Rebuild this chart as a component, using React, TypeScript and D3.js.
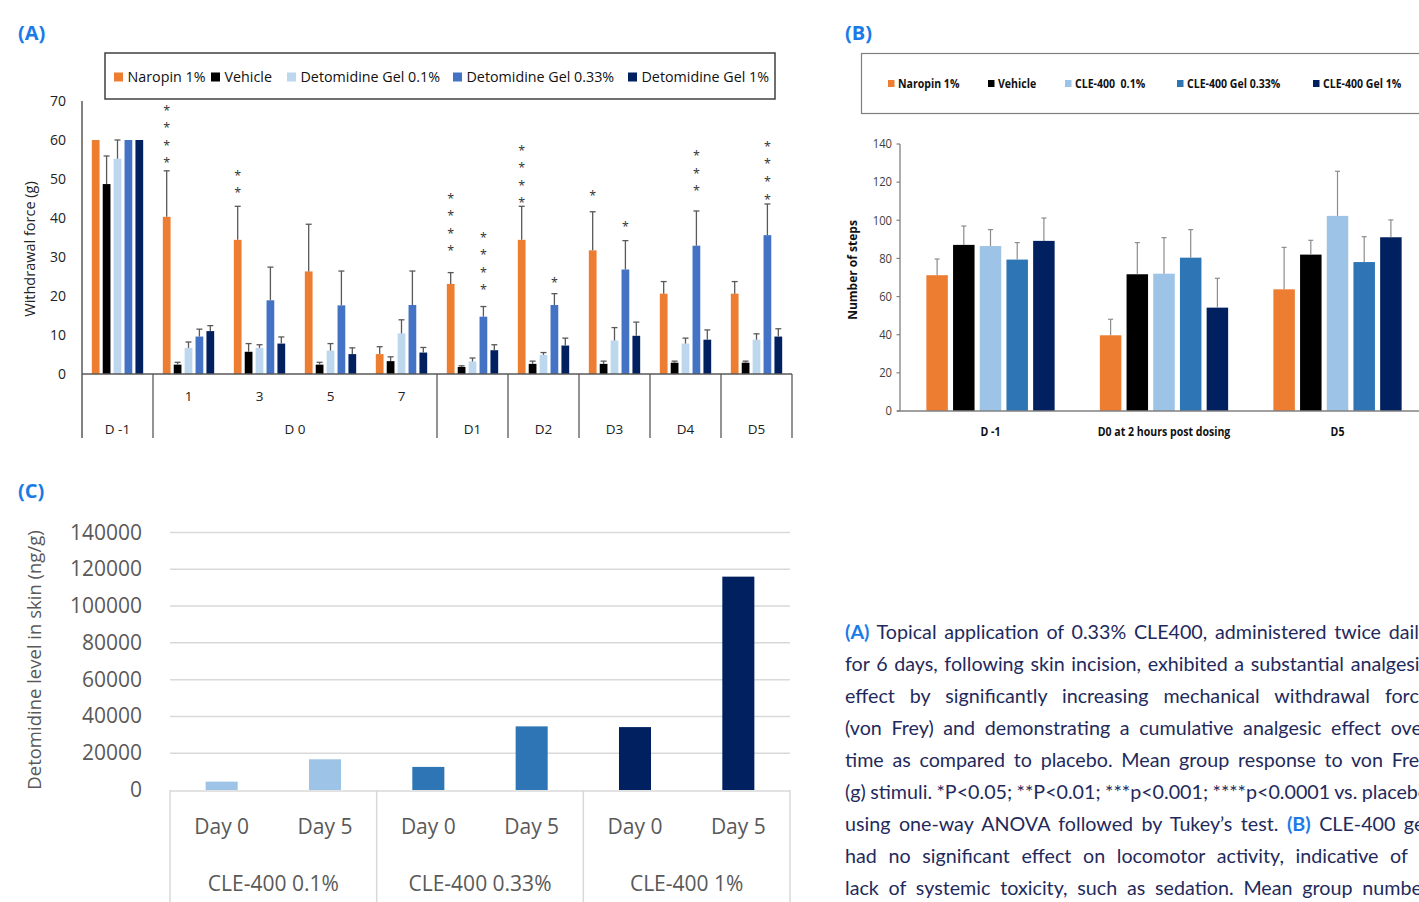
import React, { useLayoutEffect, useRef } from 'react';
import * as d3 from 'd3';

// ---------------- Panel A data ----------------
const seriesA = ['Naropin 1%', 'Vehicle', 'Detomidine Gel 0.1%', 'Detomidine Gel 0.33%', 'Detomidine Gel 1%'];
const colsA = ['D -1', '1', '3', '5', '7', 'D1', 'D2', 'D3', 'D4', 'D5'];
const subLabelsA = ['', '1', '3', '5', '7', '', '', '', '', ''];
const groupLabelsA = ['D -1', 'D 0', 'D1', 'D2', 'D3', 'D4', 'D5'];
const groupSpansA = [1, 4, 1, 1, 1, 1, 1];
const naropinA = [60, 40.3, 34.4, 26.3, 5.1, 23.1, 34.4, 31.7, 20.6, 20.6];
const naropinErrA = [0, 11.8, 8.6, 12.1, 1.9, 2.9, 8.6, 9.9, 3.1, 3.1];
const vehicleA = [48.7, 2.4, 5.7, 2.4, 3.3, 1.8, 2.6, 2.6, 2.9, 2.9];
const vehicleErrA = [7.2, 0.6, 2.1, 0.6, 1.1, 0.3, 0.7, 0.7, 0.4, 0.4];
const gel01A = [55.2, 6.7, 6.7, 6.0, 10.4, 3.2, 4.9, 8.6, 7.8, 8.8];
const gel01ErrA = [4.8, 1.5, 0.8, 1.8, 3.5, 0.9, 0.6, 3.3, 1.4, 1.5];
const gel033A = [60, 9.6, 18.9, 17.6, 17.7, 14.7, 17.7, 26.8, 32.9, 35.6];
const gel033ErrA = [0, 1.9, 8.5, 8.8, 8.7, 2.6, 2.9, 7.4, 8.9, 8.0];
const gel1A = [60, 11.0, 7.8, 5.1, 5.5, 6.1, 7.3, 9.8, 8.8, 9.6];
const gel1ErrA = [0, 1.4, 1.7, 1.6, 1.3, 1.4, 1.9, 3.5, 2.5, 2.0];
// significance stars: column index, series index, number of stars, level (g) of lowest star
const starColA = [1, 2, 5, 5, 6, 6, 7, 7, 8, 9];
const starSeriesA = [0, 0, 0, 3, 0, 3, 0, 3, 3, 3];
const starCountA = [4, 2, 4, 4, 4, 1, 1, 1, 3, 4];
const starLevelA = [54.8, 47.1, 32.2, 22.2, 44.5, 24.0, 46.3, 38.4, 47.6, 45.5];
const yTicksA = [0, 10, 20, 30, 40, 50, 60, 70];

// ---------------- Panel B data ----------------
const seriesB = ['Naropin 1%', 'Vehicle', 'CLE-400  0.1%', 'CLE-400 Gel 0.33%', 'CLE-400 Gel 1%'];
const groupsB = ['D -1', 'D0 at 2 hours post dosing', 'D5'];
const naropinB = [71.2, 39.7, 63.8];
const naropinErrB = [8.5, 8.4, 22.0];
const vehicleB = [87.1, 71.7, 82.0];
const vehicleErrB = [9.9, 16.6, 7.5];
const cle01B = [86.5, 72.0, 102.3];
const cle01ErrB = [8.6, 18.9, 23.4];
const cle033B = [79.4, 80.4, 78.1];
const cle033ErrB = [8.9, 14.7, 13.3];
const cle1B = [89.2, 54.2, 91.1];
const cle1ErrB = [12.0, 15.4, 9.1];
const yTicksB = [0, 20, 40, 60, 80, 100, 120, 140];

// ---------------- Panel C data ----------------
const groupsC = ['CLE-400 0.1%', 'CLE-400 0.33%', 'CLE-400 1%'];
const daysC = ['Day 0', 'Day 5'];
const day0C = [4550, 12550, 34200];
const day5C = [16700, 34600, 116000];
const yTicksC = [0, 20000, 40000, 60000, 80000, 100000, 120000, 140000];

// ---------------- Caption ----------------
const captionLines: { tag?: string; pre?: string; text: string }[] = [
  { tag: '(A)', text: ' Topical application of 0.33% CLE400, administered twice daily' },
  { text: 'for 6 days, following skin incision, exhibited a substantial analgesic' },
  { text: 'effect by significantly increasing mechanical withdrawal force' },
  { text: '(von Frey) and demonstrating a cumulative analgesic effect over' },
  { text: 'time as compared to placebo. Mean group response to von Frey' },
  { text: '(g) stimuli. *P<0.05; **P<0.01; ***p<0.001; ****p<0.0001 vs. placebo' },
  { pre: 'using one-way ANOVA followed by Tukey\u2019s test. ', tag: '(B)', text: ' CLE-400 gel' },
  { text: 'had no significant effect on locomotor activity, indicative of a' },
  { text: 'lack of systemic toxicity, such as sedation. Mean group number' },
];

const colorsA = ['#ED7D31', '#000000', '#BDD7EE', '#4472C4', '#002060'];
const colorsB = ['#ED7D31', '#000000', '#9DC3E6', '#2E75B6', '#002060'];
const colorsC = ['#9DC3E6', '#2E75B6', '#002060'];
const BLUE = '#1A7BE8';
const PARA_W = 584;

const valuesA = [naropinA, vehicleA, gel01A, gel033A, gel1A];
const errsA = [naropinErrA, vehicleErrA, gel01ErrA, gel033ErrA, gel1ErrA];
const valuesB = [naropinB, vehicleB, cle01B, cle033B, cle1B];
const errsB = [naropinErrB, vehicleErrB, cle01ErrB, cle033ErrB, cle1ErrB];

function PanelA() {
  const x = d3.scaleBand<string>().domain(colsA).range([82, 792]);
  const inner = d3.scaleBand<string>().domain(seriesA).range([0, x.bandwidth()]).paddingInner(0.29).paddingOuter(0.9);
  const y = d3.scaleLinear().domain([0, 70]).range([374, 101]);
  const bottom = 438;
  const font = "'Open Sans', sans-serif";
  const bounds: number[] = [0];
  groupSpansA.forEach((s) => bounds.push(bounds[bounds.length - 1] + s));
  const colX = (i: number) => (i < colsA.length ? (x(colsA[i]) as number) : x.range()[1]);
  const legendX = [114, 211, 287, 453, 628];
  return (
    <g fontFamily={font}>
      <rect x={105} y={53} width={670} height={46} fill="#fff" stroke="#404040" strokeWidth={1.5} />
      {seriesA.map((s, i) => (
        <g key={s}>
          <rect x={legendX[i]} y={72.5} width={9} height={9} fill={colorsA[i]} />
          <text x={legendX[i] + 13.5} y={81.5} fontSize={14.3} fill="#111">{s}</text>
        </g>
      ))}
      {seriesA.map((s, si) =>
        colsA.map((c, ci) => {
          const v = valuesA[si][ci];
          const e = errsA[si][ci];
          const bx = (x(c) as number) + (inner(s) as number);
          const cx = bx + inner.bandwidth() / 2;
          return (
            <g key={s + c}>
              <rect x={bx} y={y(v)} width={inner.bandwidth()} height={y(0) - y(v)} fill={colorsA[si]} />
              {e > 0 && (
                <g stroke="#595959" strokeWidth={1.3}>
                  <line x1={cx} x2={cx} y1={y(v)} y2={y(v + e)} />
                  <line x1={cx - 3} x2={cx + 3} y1={y(v + e)} y2={y(v + e)} />
                </g>
              )}
            </g>
          );
        })
      )}
      {starColA.map((ci, k) => {
        const s = seriesA[starSeriesA[k]];
        const cx = (x(colsA[ci]) as number) + (inner(s) as number) + inner.bandwidth() / 2;
        return d3.range(starCountA[k]).map((j) => (
          <text key={k + '-' + j} x={cx} y={y(starLevelA[k] + j * 4.5) + 7} fontSize={12.5} textAnchor="middle" fill="#333">*</text>
        ));
      })}
      <line x1={82} x2={82} y1={y(70)} y2={bottom} stroke="#595959" strokeWidth={1.5} />
      <line x1={82} x2={792} y1={y(0)} y2={y(0)} stroke="#595959" strokeWidth={1.5} />
      {bounds.slice(1).map((b) => (
        <line key={b} x1={colX(b)} x2={colX(b)} y1={y(0)} y2={bottom} stroke="#595959" strokeWidth={1.3} />
      ))}
      {yTicksA.map((t) => (
        <text key={t} x={66} y={y(t) + 5} fontSize={14} textAnchor="end" fill="#222">{t}</text>
      ))}
      {colsA.map((c, i) => (
        <text key={c} x={(x(c) as number) + x.bandwidth() / 2} y={401} fontSize={13.5} textAnchor="middle" fill="#222">{subLabelsA[i]}</text>
      ))}
      {groupLabelsA.map((g, i) => (
        <text key={g} x={(colX(bounds[i]) + colX(bounds[i + 1])) / 2} y={434} fontSize={13.5} textAnchor="middle" fill="#222">{g}</text>
      ))}
      <text transform={`translate(35,${249}) rotate(-90)`} fontSize={14.5} textAnchor="middle" fill="#222">Withdrawal force (g)</text>
    </g>
  );
}

function CondText(props: { x: number; y: number; s?: number; children: React.ReactNode; anchor?: string; size?: number; weight?: number; fill?: string }) {
  const s = props.s ?? 0.9;
  return (
    <text transform={`translate(${props.x},${props.y}) scale(${s},1)`} fontSize={props.size ?? 12} fontWeight={props.weight ?? 700} textAnchor={props.anchor ?? 'start'} fill={props.fill ?? '#111'}>
      {props.children}
    </text>
  );
}

function PanelB() {
  const x = d3.scaleBand<string>().domain(groupsB).range([903.75, 1424.25]);
  const inner = d3.scaleBand<string>().domain(seriesB).range([0, x.bandwidth()]).paddingInner(0.195).paddingOuter(0.847);
  const y = d3.scaleLinear().domain([0, 140]).range([411, 144]);
  const font = "'Open Sans', sans-serif";
  const legendX = [888, 988, 1065, 1177, 1313];
  return (
    <g fontFamily={font}>
      <rect x={861.5} y={53.5} width={600} height={60} fill="#fff" stroke="#7F7F7F" strokeWidth={1.2} />
      {seriesB.map((s, i) => (
        <g key={s}>
          <rect x={legendX[i]} y={80} width={6.5} height={7} fill={colorsB[i]} />
          <CondText x={legendX[i] + 10} y={88} s={0.88} size={12}>{s.replace('  ', '\u00a0\u00a0')}</CondText>
        </g>
      ))}
      {seriesB.map((s, si) =>
        groupsB.map((g, gi) => {
          const v = valuesB[si][gi];
          const e = errsB[si][gi];
          const bx = (x(g) as number) + (inner(s) as number);
          const cx = bx + inner.bandwidth() / 2;
          return (
            <g key={s + g}>
              <rect x={bx} y={y(v)} width={inner.bandwidth()} height={y(0) - y(v)} fill={colorsB[si]} />
              <g stroke="#8C8C8C" strokeWidth={1.2}>
                <line x1={cx} x2={cx} y1={y(v)} y2={y(v + e)} />
                <line x1={cx - 2.5} x2={cx + 2.5} y1={y(v + e)} y2={y(v + e)} />
              </g>
            </g>
          );
        })
      )}
      <line x1={900} x2={900} y1={y(140)} y2={y(0)} stroke="#808080" strokeWidth={1.3} />
      <line x1={897} x2={1419} y1={y(0)} y2={y(0)} stroke="#808080" strokeWidth={1.3} />
      {yTicksB.map((t) => (
        <g key={t}>
          <line x1={896.5} x2={900} y1={y(t)} y2={y(t)} stroke="#808080" strokeWidth={1.2} />
          <text x={892} y={y(t) + 4.3} fontSize={12.5} textAnchor="end" fill="#404040" transform={`translate(${892 * 0.1},0) scale(0.9,1)`}>{t}</text>
        </g>
      ))}
      {groupsB.map((g) => (
        <CondText key={g} x={(x(g) as number) + x.bandwidth() / 2} y={436} anchor="middle" s={0.88}>{g}</CondText>
      ))}
      <text transform="translate(857,270) rotate(-90)" fontSize={12} fontWeight={700} textAnchor="middle" fill="#111">Number of steps</text>
    </g>
  );
}

function PanelC() {
  const x = d3.scaleBand<string>().domain(groupsC).range([170, 790]);
  const sub = d3.scaleBand<string>().domain(daysC).range([0, x.bandwidth()]);
  const y = d3.scaleLinear().domain([0, 140000]).range([790, 532.5]);
  const bw = sub.bandwidth() * 0.31;
  const font = "'Open Sans', sans-serif";
  const vals = [day0C, day5C];
  return (
    <g fontFamily={font}>
      {yTicksC.map((t) => (
        <g key={t}>
          {t > 0 && <line x1={170} x2={790} y1={y(t)} y2={y(t)} stroke="#D9D9D9" strokeWidth={1.5} />}
          <text x={142} y={y(t) + 7} fontSize={21} textAnchor="end" fill="#595959">{t}</text>
        </g>
      ))}
      {groupsC.map((g, gi) =>
        daysC.map((d, di) => {
          const v = vals[di][gi];
          const cx = (x(g) as number) + (sub(d) as number) + sub.bandwidth() / 2;
          return <rect key={g + d} x={cx - bw / 2} y={y(v)} width={bw} height={y(0) - y(v)} fill={colorsC[gi]} />;
        })
      )}
      <line x1={170} x2={790} y1={y(0) + 1} y2={y(0) + 1} stroke="#D9D9D9" strokeWidth={1.5} />
      {[...groupsC.map((g) => x(g) as number), 790].map((b) => (
        <line key={b} x1={b} x2={b} y1={y(0)} y2={902} stroke="#D9D9D9" strokeWidth={1.5} />
      ))}
      {groupsC.map((g) =>
        daysC.map((d) => (
          <text key={g + d} x={(x(g) as number) + (sub(d) as number) + sub.bandwidth() / 2} y={834} fontSize={21} textAnchor="middle" fill="#595959">{d}</text>
        ))
      )}
      {groupsC.map((g) => (
        <text key={g} x={(x(g) as number) + x.bandwidth() / 2} y={891} fontSize={21} textAnchor="middle" fill="#595959">{g}</text>
      ))}
      <text transform="translate(41,660) rotate(-90)" fontSize={18.5} textAnchor="middle" fill="#595959">Detomidine level in skin (ng/g)</text>
    </g>
  );
}

export default function App() {
  const refs = useRef<(SVGTextElement | null)[]>([]);
  useLayoutEffect(() => {
    const justify = () => {
      refs.current.forEach((el) => {
        if (!el) return;
        el.style.wordSpacing = '0px';
        const natural = el.getComputedTextLength();
        const spaces = ((el.textContent || '').match(/ /g) || []).length;
        if (spaces > 0) el.style.wordSpacing = `${(PARA_W - natural) / spaces}px`;
      });
    };
    justify();
    if ((document as any).fonts && (document as any).fonts.ready) (document as any).fonts.ready.then(justify);
  }, []);

  return (
    <div style={{ position: 'absolute', left: 0, top: 0, width: 1419, height: 902, overflow: 'hidden', background: '#fff' }}>
      <svg width={1419} height={902} style={{ display: 'block' }}>
        <rect width={1419} height={902} fill="#fff" />
        <g fontFamily="'Open Sans', sans-serif" fontWeight={700} fontSize={20} fill={BLUE}>
          <text x={18} y={40}>(A)</text>
          <text x={845} y={40}>(B)</text>
          <text x={18} y={498}>(C)</text>
        </g>
        <PanelA />
        <PanelB />
        <PanelC />
        <g fontFamily="Lato, sans-serif" fontSize={19.7} fill="#1F2A5C">
          {captionLines.map((l, i) => (
            <text key={i} ref={(el) => { refs.current[i] = el; }} x={845} y={639 + 32 * i} style={{ whiteSpace: 'pre' }}>
              {l.pre && <tspan>{l.pre}</tspan>}
              {l.tag && <tspan fill={BLUE} fontWeight={700}>{l.tag}</tspan>}
              <tspan>{l.text}</tspan>
            </text>
          ))}
        </g>
      </svg>
    </div>
  );
}
